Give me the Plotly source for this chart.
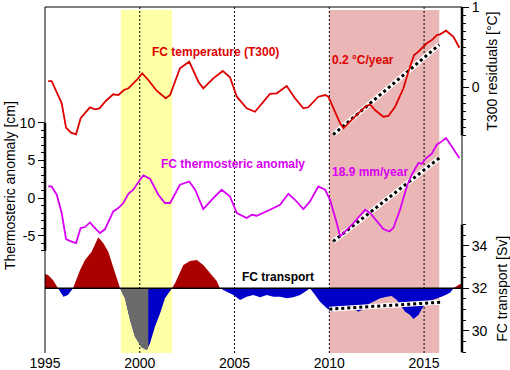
import numpy as np
import plotly.graph_objects as go

# ---------------- data ----------------
t300_years = [1995.17, 1995.35, 1995.88, 1996.11, 1996.37, 1996.64, 1996.88, 1997.37, 1997.64, 1997.87,
              1998.22, 1998.60, 1998.87, 1999.17, 1999.40, 1999.84, 2000.13, 2000.45, 2000.89, 2001.37,
              2001.60, 2002.12, 2002.61, 2003.09, 2003.35, 2003.88, 2004.38, 2004.76, 2005.12, 2005.64,
              2006.08, 2006.44, 2006.87, 2007.23, 2007.75, 2008.19, 2008.63, 2008.89, 2009.42, 2009.78,
              2009.95, 2010.57, 2010.74, 2011.09, 2011.89, 2012.15, 2012.41, 2012.85, 2013.12, 2013.47,
              2013.91, 2014.17, 2014.47, 2014.70, 2014.96, 2015.14, 2015.41, 2015.67, 2015.84, 2016.16,
              2016.55, 2016.86]
t300_values = [0.078, 0.078, -0.196, -0.503, -0.565, -0.585, -0.386, -0.249, -0.274, -0.262,
               -0.167, -0.087, -0.096, -0.034, -0.012, 0.091, 0.174, 0.091, -0.042, -0.137,
               -0.096, 0.237, 0.319, 0.070, -0.012, 0.112, 0.203, 0.125, -0.117, -0.262,
               -0.304, -0.199, -0.083, -0.075, 0.016, -0.137, -0.262, -0.249, -0.117, -0.096,
               -0.117, -0.448, -0.511, -0.428, -0.242, -0.212, -0.283, -0.366, -0.357, -0.242,
               -0.012, 0.194, 0.402, 0.443, 0.506, 0.548, 0.589, 0.651, 0.660, 0.705,
               0.630, 0.493]

thermo_years = [1995.17, 1995.35, 1995.62, 1995.88, 1996.11, 1996.37, 1996.64, 1996.88, 1997.11, 1997.37,
                1997.60, 1997.90, 1998.17, 1998.60, 1998.87, 1999.13, 1999.40, 1999.66, 2000.01, 2000.19,
                2000.54, 2000.98, 2001.33, 2001.60, 2002.12, 2002.61, 2002.92, 2003.35, 2003.88, 2004.32,
                2004.76, 2005.12, 2005.64, 2005.91, 2006.17, 2006.52, 2006.87, 2007.40, 2007.84, 2008.19,
                2008.63, 2008.98, 2009.42, 2009.78, 2010.04, 2010.39, 2010.57, 2011.27, 2011.89, 2012.15,
                2012.50, 2012.85, 2013.17, 2013.38, 2013.73, 2014.09, 2014.35, 2014.70, 2014.88, 2015.11,
                2015.41, 2015.67, 2015.93, 2016.16, 2016.46, 2016.86]
thermo_values = [1.54, 1.54, 0.44, -1.99, -5.44, -5.76, -5.98, -3.98, -3.85, -3.24,
                 -3.90, -4.65, -4.12, -1.78, -1.33, -0.66, 0.57, 1.10, 2.43, 3.00,
                 2.56, 0.44, -0.66, -0.66, 1.77, 2.20, 1.10, -1.46, 0.00, 1.10,
                 0.21, -1.99, -2.66, -2.22, -2.35, -1.99, -1.55, -0.89, 0.57, -0.23,
                 -1.46, -0.45, 1.54, 1.10, -0.23, -3.32, -5.10, -3.32, -1.55, -1.99,
                 -3.11, -4.12, -4.44, -3.98, -1.55, 1.54, 3.09, 4.65, 4.56, 5.31,
                 5.88, 7.08, 7.52, 7.97, 6.85, 5.31]

transport_years = [1995.00, 1995.16, 1995.42, 1995.69, 1995.97, 1996.21, 1996.48, 1996.85, 1997.11, 1997.46,
                   1997.73, 1997.81, 1998.08, 1998.34, 1998.60, 1998.87, 1998.96, 1999.22, 1999.49, 1999.75,
                   2000.10, 2000.37, 2000.54, 2000.80, 2001.07, 2001.33, 2001.70, 2001.86, 2002.12, 2002.30,
                   2002.65, 2003.01, 2003.35, 2003.71, 2004.06, 2004.23, 2004.59, 2004.94, 2005.29, 2005.64,
                   2005.99, 2006.35, 2006.70, 2007.05, 2007.40, 2007.75, 2008.10, 2008.46, 2008.72, 2008.98,
                   2009.25, 2009.51, 2009.87, 2010.13, 2010.57, 2010.92, 2011.27, 2011.53, 2011.71, 2011.97,
                   2012.32, 2012.68, 2013.03, 2013.29, 2013.56, 2013.82, 2014.00, 2014.26, 2014.44, 2014.70,
                   2014.88, 2015.05, 2015.32, 2015.67, 2016.02, 2016.37, 2016.55, 2016.73, 2016.90, 2017.00]
transport_values = [32.67, 32.63, 32.39, 32.00, 31.60, 31.68, 32.00, 32.86, 33.33, 33.72,
                    34.24, 34.40, 34.12, 33.72, 32.99, 32.24, 32.00, 31.53, 30.51, 29.72,
                    29.22, 29.10, 29.41, 30.19, 30.82, 31.53, 32.00, 32.24, 32.78, 33.10,
                    33.28, 33.33, 33.10, 32.73, 32.34, 32.00, 31.84, 31.68, 31.45, 31.60,
                    31.68, 31.58, 31.68, 31.60, 31.60, 31.53, 31.58, 31.68, 31.84, 32.00,
                    31.68, 31.37, 31.06, 30.90, 31.06, 31.13, 31.06, 30.90, 30.98, 31.21,
                    31.37, 31.53, 31.60, 31.64, 31.45, 31.13, 30.90, 30.74, 30.56, 30.74,
                    31.06, 31.29, 31.42, 31.53, 31.64, 31.79, 32.00, 32.11, 32.20, 32.20]
transport_base = 32.0

t300_trend_years = [2010.2, 2015.8]
t300_trend_values = [-0.59, 0.53]
thermo_trend_years = [2010.2, 2015.8]
thermo_trend_values = [-5.76, 5.31]
transport_trend_years = [2010.0, 2016.0]
transport_trend_values = [31.02, 31.35]

gray_period = [1998.96, 2000.45]
yellow_period = [1999.0, 2001.7]
pink_period = [2010.0, 2015.8]
event_years = [2000, 2005, 2010, 2015]
x_ticks = [1995, 2000, 2005, 2010, 2015]

left_major = [-5, 0, 5, 10]
left_minor = list(range(-7, 11))
t300_major = [0, 1]
t300_minor = [round(-0.6 + 0.1 * i, 1) for i in range(17)]
transport_major = [30, 32, 34]
transport_minor = [29 + 0.5 * i for i in range(13)]

# ---------------- styles ----------------
FONT = "Liberation Sans, Arial, Helvetica, sans-serif"
RED = "#dd0000"
MAGENTA = "#d800f2"
DARKRED = "#aa0000"
BLUE = "#0000c8"
GRAY = "#6b6b6b"


def augment(x, y, base):
    xs, ys = [x[0]], [y[0]]
    for i in range(1, len(x)):
        a, b = y[i - 1] - base, y[i] - base
        if a * b < 0:
            xc = x[i - 1] + (x[i] - x[i - 1]) * a / (a - b)
            xs.append(xc)
            ys.append(base)
        xs.append(x[i])
        ys.append(y[i])
    return np.array(xs), np.array(ys)


xa, ya = augment(transport_years, transport_values, transport_base)
pos = np.maximum(ya, transport_base)
neg = np.minimum(ya, transport_base)
basearr = np.full(len(xa), transport_base)

fig = go.Figure()

# transport fills (above baseline red, below blue, a grey stretch around 2000)
fig.add_trace(go.Scatter(x=np.concatenate([xa, xa[::-1]]), y=np.concatenate([pos, basearr[::-1]]),
                         fill="toself", fillcolor=DARKRED, line=dict(width=0), mode="lines",
                         yaxis="y3", hoverinfo="skip", showlegend=False))
fig.add_trace(go.Scatter(x=np.concatenate([xa, xa[::-1]]), y=np.concatenate([neg, basearr[::-1]]),
                         fill="toself", fillcolor=BLUE, line=dict(width=0), mode="lines",
                         yaxis="y3", hoverinfo="skip", showlegend=False))
g0, g1 = gray_period
mask = (xa > g0) & (xa < g1)
gx = np.concatenate([[g0], xa[mask], [g1]])
gy = np.concatenate([[np.interp(g0, xa, neg)], neg[mask], [np.interp(g1, xa, neg)]])
fig.add_trace(go.Scatter(x=np.concatenate([gx, gx[::-1]]),
                         y=np.concatenate([gy, np.full(len(gx), transport_base)]),
                         fill="toself", fillcolor=GRAY, line=dict(width=0), mode="lines",
                         yaxis="y3", hoverinfo="skip", showlegend=False))
fig.add_trace(go.Scatter(x=[1995, 2017], y=[transport_base, transport_base], mode="lines",
                         line=dict(color="black", width=1.5), yaxis="y3", hoverinfo="skip",
                         showlegend=False))

# trend lines (white under black dots)
for xs, ys, ax in [(t300_trend_years, t300_trend_values, "y2"),
                   (thermo_trend_years, thermo_trend_values, "y"),
                   (transport_trend_years, transport_trend_values, "y3")]:
    fig.add_trace(go.Scatter(x=xs, y=ys, mode="lines", line=dict(color="white", width=5),
                             yaxis=ax, hoverinfo="skip", showlegend=False))
    fig.add_trace(go.Scatter(x=xs, y=ys, mode="lines", line=dict(color="black", width=3, dash="dot"),
                             yaxis=ax, hoverinfo="skip", showlegend=False))

# main curves
fig.add_trace(go.Scatter(x=t300_years, y=t300_values, mode="lines",
                         line=dict(color=RED, width=1.8), yaxis="y2", showlegend=False))
fig.add_trace(go.Scatter(x=thermo_years, y=thermo_values, mode="lines",
                         line=dict(color=MAGENTA, width=1.8), yaxis="y", showlegend=False))

BAND_TOP = 0.9913
shapes = [
    dict(type="rect", xref="x", yref="paper", x0=yellow_period[0], x1=yellow_period[1], y0=0, y1=BAND_TOP,
         fillcolor="#ffffa6", line=dict(width=0), layer="below"),
    dict(type="rect", xref="x", yref="paper", x0=pink_period[0], x1=pink_period[1], y0=0, y1=BAND_TOP,
         fillcolor="#ebb6b6", line=dict(width=0), layer="below"),
]
for ev in event_years:
    shapes.append(dict(type="line", xref="x", yref="paper", x0=ev, x1=ev, y0=0, y1=1,
                       line=dict(color="black", width=1, dash="2px,2px"), layer="below"))
# frame and axis spines
shapes += [
    dict(type="line", xref="paper", yref="paper", x0=0, x1=1, y0=1, y1=1, line=dict(color="black", width=1)),
    dict(type="line", xref="paper", yref="paper", x0=0, x1=0, y0=0, y1=1, line=dict(color="black", width=1)),
    dict(type="line", xref="paper", yref="paper", x0=1, x1=1, y0=0, y1=1, line=dict(color="black", width=1)),
    dict(type="line", xref="paper", yref="y", x0=0, x1=0, y0=-7, y1=10, line=dict(color="black", width=2.5)),
    dict(type="line", xref="paper", yref="y2", x0=1, x1=1, y0=-0.6, y1=1, line=dict(color="black", width=2.5)),
    dict(type="line", xref="paper", yref="y3", x0=1, x1=1, y0=29, y1=35, line=dict(color="black", width=2.5)),
]

ann_font = dict(family=FONT, size=12)
annotations = [
    dict(text="<b>FC temperature (T300)</b>", x=0.4077, y=0.870, font=dict(**ann_font, color=RED)),
    dict(text="<b>0.2 °C/year</b>", x=0.6835, y=0.848, xanchor="left", font=dict(**ann_font, color=RED)),
    dict(text="<b>FC thermosteric anomaly</b>", x=0.4508, y=0.5462, font=dict(**ann_font, color=MAGENTA)),
    dict(text="<b>18.9 mm/year</b>", x=0.6835, y=0.5231, xanchor="left", font=dict(**ann_font, color=MAGENTA)),
    dict(text="<b>FC transport</b>", x=0.5576, y=0.2197, font=dict(**ann_font, color="black")),
    dict(text="Thermosteric anomaly [cm]", x=-0.0839, y=0.4827, textangle=-90,
         font=dict(family=FONT, size=14, color="black")),
    dict(text="T300 residuals [°C]", x=1.0712, y=0.815, textangle=-90,
         font=dict(family=FONT, size=14, color="black")),
    dict(text="FC transport [Sv]", x=1.0952, y=0.185, textangle=-90,
         font=dict(family=FONT, size=14, color="black")),
]
for a in annotations:
    a.update(xref="paper", yref="paper", showarrow=False)
    a.setdefault("xanchor", "center")
    a.setdefault("yanchor", "middle")

tickfont = dict(family=FONT, size=14, color="black")


def minor(vals, length=3):
    return dict(tickmode="array", tickvals=vals, ticks="outside", ticklen=length,
                tickwidth=1, tickcolor="black", showgrid=False)


common = dict(showgrid=False, zeroline=False, showline=False, tickfont=tickfont,
              ticklabeloverflow="allow", automargin=False)

fig.update_layout(
    width=510, height=370,
    margin=dict(l=45, r=48, t=7, b=17, autoexpand=False),
    paper_bgcolor="white", plot_bgcolor="white",
    showlegend=False,
    shapes=shapes,
    annotations=annotations,
    xaxis=dict(range=[1995, 2017], tickmode="array", tickvals=x_ticks,
               ticktext=[str(v) for v in x_ticks], ticks="", **common),
    yaxis=dict(range=[-20.57, 25.36], tickmode="array", tickvals=left_major,
               ticktext=[str(v) for v in left_major], ticks="outside", ticklen=6, tickwidth=1,
               tickcolor="black", minor=minor(left_minor), **common),
    yaxis2=dict(range=[-3.31, 1.0005], overlaying="y", side="right", anchor="x", tickmode="array",
                tickvals=t300_major, ticktext=[str(v) for v in t300_major], ticks="outside", ticklen=6,
                tickwidth=1, tickcolor="black", minor=minor(t300_minor), **common),
    yaxis3=dict(range=[28.955, 45.24], overlaying="y", side="right", anchor="x", tickmode="array",
                tickvals=transport_major, ticktext=[str(v) for v in transport_major], ticks="outside",
                ticklen=6, tickwidth=1, tickcolor="black", minor=minor(transport_minor), **common),
)

# remove the page's default 8px body margin so the 510x370 figure fills the window
fig.write_html("out.html", config={"displayModeBar": False},
               post_script="document.body.style.margin='0px';")
